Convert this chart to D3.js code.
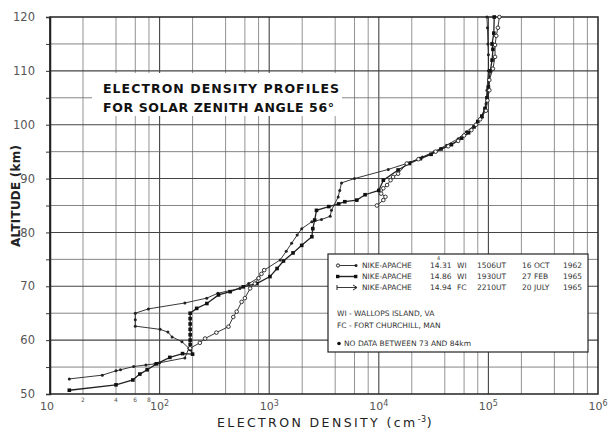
<!DOCTYPE html>
<html>
<head>
<meta charset="utf-8">
<script src="https://cdn.jsdelivr.net/npm/d3@7"></script>
<style>
body { margin: 0; background: #fff; }
text { font-family: "DejaVu Sans", sans-serif; }
</style>
</head>
<body>
<div id="chart"></div>
<script>
// altitude (km) / electron density (cm^-3)
var altA = [52.8,53.5,54.3,54.5,55.1,55.4,55.6,55.8,56.7,58.5,59.7,60.6,61.5,62.0,62.6,63.8,65.0,65.8,66.9,67.8,68.7,69.6,70.5,71.5,73.0,74.9,76.5,78.0,79.5,80.7,82.0,82.4,83.0,84.1,86.6,87.8,89.2,90.0,91.7,93.0,94.0,95.0,96.2,97.4,98.7,100.2,101.4,103.9,106.4,110.0,113.0,115.0,118.0,120.0];
var densA = [15,30,40,44,58,75,91,100,170,185,160,130,119,101,60,60,60,79,170,269,340,540,650,790,900,1260,1430,1600,1800,1980,2450,3000,3600,3700,4260,4400,4570,6000,12200,19300,25000,32000,41500,53000,63000,78000,88000,95000,97000,100000,100000,99000,98000,97000];

var altB = [50.7,51.7,52.6,53.7,54.5,55.6,56.8,57.5,57.4,58.3,59.2,60.0,61.0,62.0,63.0,64.0,65.0,65.9,66.8,68.4,69.0,69.9,70.5,71.8,73.3,74.7,76.2,77.6,79.2,80.7,82.3,84.1,84.8,85.3,85.7,86.0,87.0,87.8,89.7,91.6,92.8,93.7,94.5,95.5,96.3,97.5,98.5,99.6,100.6,101.6,103.0,105.0,107.0,110.0,112.0,114.0,115.0,117.0,120.0];
var densB = [15,40,57,66,77,94,124,162,200,190,190,190,190,190,190,190,190,218,270,345,440,580,770,1016,1180,1350,1650,1980,2450,2500,2600,2700,3500,4300,4900,6300,7500,10000,11000,15000,19000,24000,30000,37000,46000,57000,66000,74000,80000,87000,93000,97000,100000,104000,108000,110000,108000,112000,113000];

// null = no data between 73 and 84 km
var altC = [58.5,59.5,60.3,61.4,62.5,64.3,65.3,67.1,67.8,69.6,70.5,71.5,72.3,73.0,null,85.0,86.0,86.6,87.2,88.2,88.8,89.7,90.3,90.9,92.8,93.6,95.0,96.0,97.0,98.0,99.0,100.0,101.0,102.6,104.5,106.4,108.3,110.4,112.6,114.8,116.5,118.0,120.0];
var densC = [190,233,260,330,425,470,505,560,600,670,740,800,850,900,null,9600,11000,11500,10500,11000,11900,12800,13500,15000,18000,23000,33000,43000,53000,60000,70000,77000,84000,95000,98000,102000,102000,110000,115000,115000,118000,122000,126000];

var yTicks = [50,60,70,80,90,100,110,120];
var xDecades = [1,2,3,4,5,6];
var legendRows = [
  ["NIKE-APACHE", "14.31", "WI", "1506UT", "16 OCT", "1962"],
  ["NIKE-APACHE", "14.86", "WI", "1930UT", "27 FEB", "1965"],
  ["NIKE-APACHE", "14.94", "FC", "2210UT", "20 JULY", "1965"]
];
var noteLines = ["WI - WALLOPS ISLAND, VA", "FC - FORT CHURCHILL, MAN"];

var W = 610, H = 433;
var svg = d3.select("#chart").append("svg").attr("width", W).attr("height", H);

var x = d3.scaleLog().domain([10, 1e6]).range([50, 598]);
var y = d3.scaleLinear().domain([50, 120]).range([394, 17]);

// grid
var vlines = [];
for (var p = 1; p < 6; p++) {
  [1,2,4,6,8].forEach(function(m){ vlines.push(m * Math.pow(10, p)); });
}
svg.append("g").selectAll("line").data(vlines).enter().append("line")
  .attr("x1", function(d){ return x(d); }).attr("x2", function(d){ return x(d); })
  .attr("y1", y(120)).attr("y2", y(50))
  .attr("stroke", function(d){ return Math.log10(d) % 1 === 0 ? "#444" : "#777"; })
  .attr("stroke-width", function(d){ return Math.log10(d) % 1 === 0 ? 1.1 : 0.8; });
svg.append("g").selectAll("line").data(d3.range(55, 120, 5)).enter().append("line")
  .attr("x1", x(10)).attr("x2", x(1e6))
  .attr("y1", function(d){ return y(d); }).attr("y2", function(d){ return y(d); })
  .attr("stroke", function(d){ return d % 10 === 0 ? "#444" : "#666"; })
  .attr("stroke-width", function(d){ return d % 10 === 0 ? 1.1 : 0.8; });

// title block (grid blanked out behind it)
svg.append("rect").attr("x", 92).attr("y", 73).attr("width", 250).attr("height", 43).attr("fill", "#fff");
svg.append("text").attr("x", 103).attr("y", 93).attr("font-size", 12.5).attr("font-weight", 600).attr("fill", "#111")
  .attr("textLength", 236).attr("lengthAdjust", "spacing").text("ELECTRON DENSITY PROFILES");
svg.append("text").attr("x", 103).attr("y", 112).attr("font-size", 12.5).attr("font-weight", 600).attr("fill", "#111")
  .attr("textLength", 231).attr("lengthAdjust", "spacing").text("FOR SOLAR ZENITH ANGLE 56°");

// frame
svg.append("rect").attr("x", x(10)).attr("y", y(120)).attr("width", x(1e6) - x(10)).attr("height", y(50) - y(120))
  .attr("fill", "none").attr("stroke", "#222").attr("stroke-width", 1.5);

// y axis
var yAxis = d3.axisLeft(y).tickValues(d3.range(50, 121, 5)).tickSize(4).tickPadding(11)
  .tickFormat(function(d){ return d % 10 === 0 ? d : ""; });
var gy = svg.append("g").attr("transform", "translate(" + x(10) + ",0)").call(yAxis);
gy.select(".domain").attr("stroke", "#222").attr("stroke-width", 1.5);
gy.selectAll(".tick line").attr("stroke", "#333");
gy.selectAll("text").attr("font-size", 11.5).attr("fill", "#555").attr("font-family", "DejaVu Sans");

svg.append("text").attr("transform", "translate(20,196) rotate(-90)").attr("text-anchor", "middle")
  .attr("font-size", 12).attr("font-weight", 600).attr("fill", "#222").attr("textLength", 102).attr("lengthAdjust", "spacing")
  .text("ALTITUDE (km)");

// x labels
var xl = svg.append("g").attr("font-size", 11).attr("fill", "#555");
xDecades.forEach(function(p){
  var t = xl.append("text").attr("x", x(Math.pow(10, p)) + (p === 1 ? -3 : 0)).attr("y", 410).attr("text-anchor", "middle");
  t.append("tspan").text("10");
  if (p > 1) t.append("tspan").attr("dy", -4).attr("font-size", 8).text(p);
});
[2,4,6,8].forEach(function(m){
  xl.append("text").attr("x", x(m * 10)).attr("y", 402).attr("text-anchor", "middle").attr("font-size", 6).text(m);
});
var xt = svg.append("text").attr("x", 217).attr("y", 427).attr("font-size", 12.5).attr("fill", "#222")
  .attr("letter-spacing", 2.4);
xt.append("tspan").text("ELECTRON  DENSITY  (cm");
xt.append("tspan").attr("dy", -5).attr("font-size", 8).attr("letter-spacing", 0.5).text("-3");
xt.append("tspan").attr("dy", 5).text(")");

// profiles
function profile(alt, dens) {
  return alt.map(function(a, i){ return { a: a, n: dens[i] }; });
}
var line = d3.line().defined(function(d){ return d.a !== null; })
  .x(function(d){ return x(d.n); }).y(function(d){ return y(d.a); });

var dataA = profile(altA, densA), dataB = profile(altB, densB), dataC = profile(altC, densC);

svg.append("path").attr("d", line(dataA)).attr("fill", "none").attr("stroke", "#222").attr("stroke-width", 0.9);
svg.append("g").selectAll("circle").data(dataA).enter().append("circle")
  .attr("cx", function(d){ return x(d.n); }).attr("cy", function(d){ return y(d.a); })
  .attr("r", 1.5).attr("fill", "#222");

svg.append("path").attr("d", line(dataB)).attr("fill", "none").attr("stroke", "#222").attr("stroke-width", 1.3);
svg.append("g").selectAll("rect").data(dataB).enter().append("rect")
  .attr("x", function(d){ return x(d.n) - 1.8; }).attr("y", function(d){ return y(d.a) - 1.8; })
  .attr("width", 3.6).attr("height", 3.6).attr("fill", "#111");

svg.append("path").attr("d", line(dataC)).attr("fill", "none").attr("stroke", "#222").attr("stroke-width", 0.9);
svg.append("g").selectAll("circle").data(dataC.filter(function(d){ return d.a !== null; })).enter().append("circle")
  .attr("cx", function(d){ return x(d.n); }).attr("cy", function(d){ return y(d.a); })
  .attr("r", 1.8).attr("fill", "#fff").attr("stroke", "#222").attr("stroke-width", 0.9);

// legend
var lg = svg.append("g");
lg.append("rect").attr("x", 328).attr("y", 254).attr("width", 260).attr("height", 98)
  .attr("fill", "#fff").attr("stroke", "#222").attr("stroke-width", 1.2);
var cols = [362, 430, 457, 477, 522, 563];
legendRows.forEach(function(row, i){
  var yy = 268 + i * 11;
  lg.append("line").attr("x1", 337).attr("x2", 357).attr("y1", yy - 2.5).attr("y2", yy - 2.5)
    .attr("stroke", "#222").attr("stroke-width", i === 1 ? 1.4 : 0.9);
  if (i === 0) {
    lg.append("circle").attr("cx", 338).attr("cy", yy - 2.5).attr("r", 1.6).attr("fill", "#fff").attr("stroke", "#222");
    lg.append("circle").attr("cx", 356).attr("cy", yy - 2.5).attr("r", 1.5).attr("fill", "#222");
  } else if (i === 1) {
    lg.append("rect").attr("x", 336).attr("y", yy - 4.2).attr("width", 3.4).attr("height", 3.4).attr("fill", "#111");
    lg.append("rect").attr("x", 354).attr("y", yy - 4.2).attr("width", 3.4).attr("height", 3.4).attr("fill", "#111");
  } else {
    lg.append("line").attr("x1", 337).attr("x2", 337).attr("y1", yy - 5).attr("y2", yy).attr("stroke", "#222");
    lg.append("path").attr("d", "M353," + (yy - 5) + "L357," + (yy - 2.5) + "L353," + yy).attr("fill", "none").attr("stroke", "#222");
  }
  row.forEach(function(t, j){
    lg.append("text").attr("x", cols[j]).attr("y", yy).attr("font-size", 7.5).attr("fill", "#333").text(t);
  });
});
lg.append("text").attr("x", 437).attr("y", 259.5).attr("font-size", 5).attr("fill", "#333").text("4");
noteLines.forEach(function(t, i){
  lg.append("text").attr("x", 337).attr("y", 316 + i * 12).attr("font-size", 7.5).attr("fill", "#333").text(t);
});
lg.append("circle").attr("cx", 339).attr("cy", 343.5).attr("r", 1.8).attr("fill", "#111");
lg.append("text").attr("x", 344).attr("y", 346).attr("font-size", 7.5).attr("fill", "#333").text("NO DATA BETWEEN 73 AND 84km");
</script>
</body>
</html>
